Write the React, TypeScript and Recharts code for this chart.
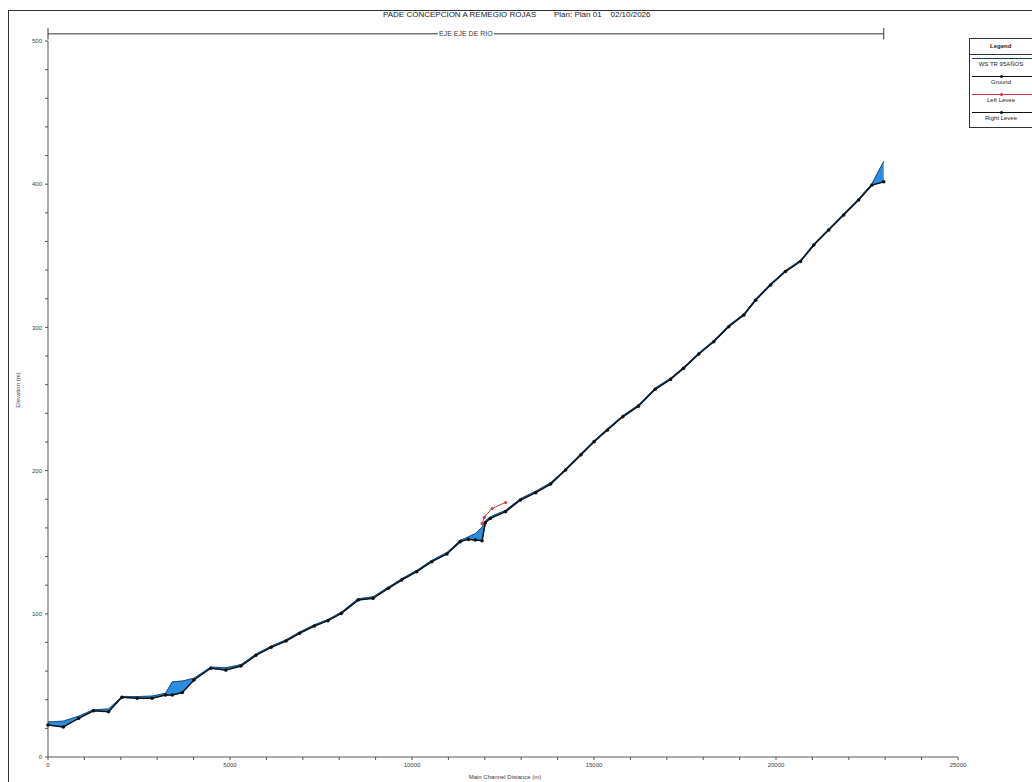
import { Area, ComposedChart, Line, ReferenceLine, XAxis, YAxis } from 'recharts'

const TITLE = 'PADE CONCEPCION A REMEGIO ROJAS'
const PLAN = 'Plan: Plan 01'
const DATE = '02/10/2026'
const REACH = 'EJE EJE DE RIO'

// main channel distance (m)
const STATIONS = [
  0, 420, 840, 1250, 1665, 2030, 2450, 2860, 3230, 3415, 3690, 4010, 4470, 4885, 5300, 5710,
  6130, 6540, 6910, 7320, 7690, 8060, 8520, 8930, 9350, 9715, 10130, 10545, 10960, 11325, 11555,
  11740, 11925, 12015, 12150, 12570, 12980, 13400, 13810, 14220, 14640, 15005, 15370, 15790,
  16220, 16680, 17100, 17460, 17880, 18290, 18700, 19120, 19440, 19850, 20260, 20670, 21040,
  21450, 21860, 22270, 22640, 22960,
]
// ground elevation (m)
const GROUND = [
  22.3, 21, 27, 32.3, 31.6, 41.7, 41, 41, 43.3, 43.3, 45, 53.8, 62, 60.7, 63.5, 71, 76.6, 81,
  86.4, 91.5, 95.2, 100.3, 109.6, 110.8, 117.8, 123.6, 129.4, 136.4, 141.8, 150.4, 152, 151.5,
  151, 163.6, 166.6, 171.3, 179.5, 184.6, 190.6, 200.4, 211, 220.2, 228.4, 237.6, 245, 256.8,
  263.7, 271.4, 281.4, 290, 300.5, 308.7, 319, 329.6, 339, 346, 357.5, 368, 378.5, 389, 399.4,
  401.7,
]
// water surface TR 95 años (m)
const WS = [
  24.5, 25, 28.5, 33, 33.5, 42.3, 42.2, 42.5, 44.5, 52.5, 53, 55, 62.8, 62.3, 64.5, 71.8, 77.4,
  81.8, 87.2, 92.3, 96, 101.2, 110.5, 111.8, 118.6, 124.4, 130.3, 137.3, 142.8, 151.3, 153.8,
  156, 160.5, 165, 167.6, 172.3, 180.4, 185.6, 191.6, 201.2, 211.8, 221, 229.2, 238.4, 245.8,
  257.6, 264.5, 272.2, 282.2, 290.8, 301.3, 309.5, 319.8, 330.4, 339.8, 346.8, 358.3, 368.8,
  379.3, 389.8, 400.5, 416,
]
const LEVEE_X = [11925, 11990, 12200, 12570]
const LEVEE_Y = [163, 167.5, 173.6, 177.8]

const X_TICKS = [
  0, 1000, 2000, 3000, 4000, 5000, 6000, 7000, 8000, 9000, 10000, 11000, 12000, 13000, 14000,
  15000, 16000, 17000, 18000, 19000, 20000, 21000, 22000, 23000, 24000, 25000,
]
const X_LABELS = [0, 5000, 10000, 15000, 20000, 25000]
const Y_TICKS = [
  0, 20, 40, 60, 80, 100, 120, 140, 160, 180, 200, 220, 240, 260, 280, 300, 320, 340, 360, 380,
  400, 420, 440, 460, 480, 500,
]
const Y_LABELS = [0, 100, 200, 300, 400, 500]

const LEGEND = [
  { name: 'WS TR 95AÑOS', color: '#1d3f66', dot: false },
  { name: 'Ground', color: '#111', dot: true },
  { name: 'Left Levee', color: '#cc3344', dot: true },
  { name: 'Right Levee', color: '#111', dot: true },
]

const profile = STATIONS.map((x, i) => ({
  x,
  ground: GROUND[i],
  ws: WS[i],
  band: [GROUND[i], WS[i]],
}))
const levee = LEVEE_X.map((x, i) => ({ x, y: LEVEE_Y[i] }))

const FONT = '"Liberation Sans", Arial, sans-serif'
const INK = '#3a3a3a'

function ReachLabel(props: any) {
  const vb = props.viewBox || {}
  const cx = vb.x + vb.width / 2
  const cy = vb.y
  return (
    <g>
      <rect x={cx - 28} y={cy - 4} width={56} height={8} fill="#fff" />
      <text x={cx} y={cy + 2.5} textAnchor="middle" fontSize={7} fill={INK} fontFamily={FONT}>
        {REACH}
      </text>
    </g>
  )
}

export default function App() {
  const last = STATIONS[STATIONS.length - 1]
  return (
    <div
      style={{
        position: 'fixed',
        left: 0,
        top: 0,
        width: 1032,
        height: 782,
        overflow: 'hidden',
        background: '#fff',
        fontFamily: FONT,
      }}
    >
      <div
        style={{
          position: 'absolute',
          left: 8,
          top: 10,
          width: 1060,
          height: 800,
          border: '1.5px solid #333',
        }}
      />
      <div
        style={{
          position: 'absolute',
          left: 383,
          top: 10,
          fontSize: 8,
          color: '#222',
          whiteSpace: 'pre',
        }}
      >
        {TITLE + '        ' + PLAN + '    ' + DATE}
      </div>
      <div
        style={{
          position: 'absolute',
          left: 18,
          top: 390,
          fontSize: 6,
          color: INK,
          transform: 'translate(-50%, -50%) rotate(-90deg)',
          whiteSpace: 'nowrap',
        }}
      >
        Elevation (m)
      </div>
      <div
        style={{
          position: 'absolute',
          left: 505,
          top: 774,
          fontSize: 6,
          color: INK,
          transform: 'translateX(-50%)',
          whiteSpace: 'nowrap',
        }}
      >
        Main Channel Distance (m)
      </div>

      <div
        style={{
          position: 'absolute',
          left: 969,
          top: 38,
          width: 80,
          height: 88,
          border: '1px solid #333',
          background: '#fff',
          fontSize: 6,
          color: '#222',
        }}
      >
        <div
          style={{
            height: 15,
            lineHeight: '15px',
            fontWeight: 'bold',
            paddingLeft: 20,
            borderBottom: '1px solid #333',
          }}
        >
          Legend
        </div>
        {LEGEND.map((l) => (
          <div key={l.name} style={{ position: 'relative', height: 18 }}>
            <div
              style={{
                position: 'absolute',
                left: 2,
                width: 60,
                top: 3,
                borderTop: `1px solid ${l.color}`,
              }}
            />
            {l.dot && (
              <div
                style={{
                  position: 'absolute',
                  left: 30,
                  top: 2,
                  width: 3,
                  height: 3,
                  borderRadius: 2,
                  background: l.color,
                }}
              />
            )}
            <div style={{ position: 'absolute', top: 6, width: 62, textAlign: 'center' }}>
              {l.name}
            </div>
          </div>
        ))}
      </div>

      <div style={{ position: 'absolute', left: 0, top: 0 }}>
        <ComposedChart
          width={1032}
          height={782}
          data={profile}
          margin={{ top: 41, right: 74, bottom: 5, left: 8 }}
        >
          <XAxis
            dataKey="x"
            type="number"
            domain={[0, 25000]}
            ticks={X_TICKS}
            interval={0}
            height={20}
            tickSize={3}
            tickMargin={3}
            stroke="#555"
            tick={{ fontSize: 6, fill: INK, fontFamily: FONT }}
            tickFormatter={(v) => (X_LABELS.includes(v) ? String(v) : '')}
          />
          <YAxis
            type="number"
            domain={[0, 500]}
            ticks={Y_TICKS}
            interval={0}
            width={40}
            tickSize={3}
            tickMargin={3}
            stroke="#555"
            tick={{ fontSize: 6, fill: INK, fontFamily: FONT }}
            tickFormatter={(v) => (Y_LABELS.includes(v) ? String(v) : '')}
          />
          <ReferenceLine
            segment={[
              { x: 0, y: 505 },
              { x: last, y: 505 },
            ]}
            stroke="#333"
            strokeWidth={1}
            ifOverflow="visible"
            label={<ReachLabel />}
          />
          <ReferenceLine
            segment={[
              { x: 0, y: 501 },
              { x: 0, y: 509 },
            ]}
            stroke="#333"
            ifOverflow="visible"
          />
          <ReferenceLine
            segment={[
              { x: last, y: 501 },
              { x: last, y: 509 },
            ]}
            stroke="#333"
            ifOverflow="visible"
          />
          <Area
            dataKey="band"
            type="linear"
            fill="#2a8ee0"
            fillOpacity={1}
            stroke="#2a8ee0"
            strokeWidth={1}
            isAnimationActive={false}
          />
          <Line
            dataKey="ws"
            type="linear"
            stroke="#24527f"
            strokeWidth={1}
            dot={false}
            isAnimationActive={false}
          />
          <Line
            data={levee}
            dataKey="y"
            type="linear"
            stroke="#cc3344"
            strokeWidth={1}
            dot={{ r: 1.5, fill: '#cc3344', stroke: 'none' }}
            isAnimationActive={false}
          />
          <Line
            dataKey="ground"
            type="linear"
            stroke="#111"
            strokeWidth={1.5}
            dot={{ r: 1.8, fill: '#111', stroke: 'none' }}
            isAnimationActive={false}
          />
        </ComposedChart>
      </div>
    </div>
  )
}
